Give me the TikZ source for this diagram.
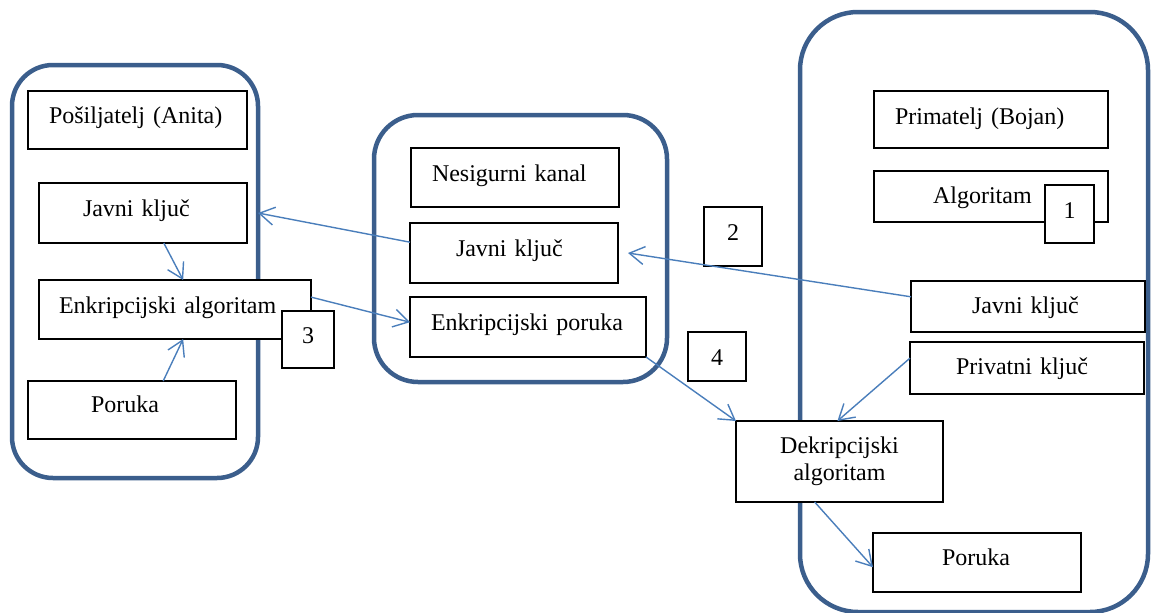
\documentclass[tikz,border=0pt]{standalone}
\usepackage{fontspec}
\setmainfont{Liberation Serif}
\usetikzlibrary{arrows.meta,calc}
\definecolor{contcol}{RGB}{59,94,140}
\definecolor{arrcol}{RGB}{74,126,187}
\newcommand\tbox[9][]{%
  \pgfmathsetmacro\tbW{#5-#3}%
  \pgfmathsetmacro\tbH{#6-#4}%
  \pgfmathsetmacro\tbT{#5-#3-2*#7}%
  \pgfmathsetmacro\tbD{20-2*#8}%
  \node[tb, minimum width=\tbW pt, minimum height=\tbH pt, text width=\tbT pt,
        inner xsep=#7pt, text height=20pt, text depth=\tbD pt, #1] (#2) at (#3,#4) {#9};}
\begin{document}
\begin{tikzpicture}[x=1pt,y=-1pt,
  container/.style={draw=contcol, line width=4.5pt, rounded corners=#1},
  tb/.style={draw=black, line width=1.3pt, fill=white, rectangle, anchor=north west,
             outer sep=0pt, inner ysep=0pt, align=left,
             font=\fontsize{24}{27}\selectfont},
  conn/.style={draw=arrcol, line width=1.4pt, -{Straight Barb[length=15pt,width=18pt]}},
]
\useasboundingbox (0,0) rectangle (1152,613);
% containers
\draw[container=41pt] (12,65) rectangle (258,478);
\draw[container=44pt] (374,115) rectangle (667,382);
\draw[container=58pt] (800,12) rectangle (1148,612);
% left
\tbox{LS}{28}{91}{247}{149}{21}{3}{Pošiljatelj (Anita)}
\tbox{LJ}{39}{183}{247}{243}{44}{3}{Javni ključ}
\tbox{EA}{39}{280}{311}{339}{20}{4}{Enkripcijski algoritam}
\tbox{LP}{28}{381}{236}{439}{63}{2.5}{Poruka}
\tbox[align=center]{N3}{282}{311}{334}{368}{0}{3.5}{3}
% middle
\tbox{NK}{411}{148}{619}{207}{21}{4}{Nesigurni kanal}
\tbox{MJ}{410}{223}{618}{283}{46}{3}{Javni ključ}
\tbox{EP}{410}{297}{646}{357}{21}{3}{Enkripcijski poruka}
% right
\tbox{PB}{874}{91}{1108}{148}{21}{4.5}{Primatelj (Bojan)}
\tbox{AL}{874}{171}{1108}{222}{59}{6.5}{Algoritam}
\tbox[align=center]{N1}{1045}{185}{1094}{243}{0}{4}{1}
\tbox{RJ}{911}{281}{1145}{332}{61}{6.5}{Javni ključ}
\tbox{PK}{910}{342}{1144}{394}{46}{6}{Privatni ključ}
\node[tb, align=center, text width=190pt, inner xsep=8.5pt, minimum width=207pt,
      minimum height=81pt] (DA) at (736,421) {Dekripcijski\\algoritam};
\tbox{RP}{873}{533}{1081}{592}{69}{3}{Poruka}
\tbox[align=center]{N2}{704}{207}{762}{266}{0}{3.5}{2}
\tbox[align=center]{N4}{688}{332}{746}{381}{0}{9}{4}
% connectors
\draw[conn] ($(LJ.south west)!0.60!(LJ.south east)$) -- ($(EA.north west)!0.53!(EA.north east)$);
\draw[conn] ($(LP.north west)!0.65!(LP.north east)$) -- ($(EA.south west)!0.53!(EA.south east)$);
\draw[conn] ($(MJ.north west)!0.32!(MJ.south west)$) -- ([xshift=11pt]LJ.east);
\draw[conn] ($(EA.north east)!0.29!(EA.south east)$) -- ($(EP.north west)!0.42!(EP.south west)$);
\draw[conn] (EP.south east) -- (DA.north west);
\draw[conn] ($(RJ.north west)!0.31!(RJ.south west)$) -- ([xshift=10pt]MJ.east);
\draw[conn] ($(PK.north west)!0.31!(PK.south west)$) -- ($(DA.north west)!0.49!(DA.north east)$);
\draw[conn] ($(DA.south west)!0.38!(DA.south east)$) -- ($(RP.north west)!0.58!(RP.south west)$);
\end{tikzpicture}
\end{document}
